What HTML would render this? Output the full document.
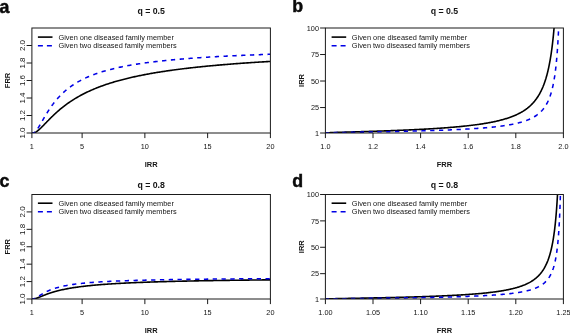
<!DOCTYPE html>
<html><head><meta charset="utf-8"><title>FRR vs IRR</title>
<style>
html,body{margin:0;padding:0;background:#fff;}
body{width:570px;height:333px;overflow:hidden;}
svg{display:block;font-family:"Liberation Sans",sans-serif;will-change:transform;}
</style></head><body>
<svg width="570" height="333" viewBox="0 0 570 333">
<rect width="570" height="333" fill="#fff"/>
<clipPath id="ca"><rect x="31.9" y="28.0" width="238.49999999999997" height="105.0"/></clipPath>
<text x="-0.4" y="12.9" font-size="17.8" font-weight="bold" fill="#0a0a0a" stroke="#0a0a0a" stroke-width="0.45">a</text>
<text x="151.14999999999998" y="13.6" font-size="8.75" font-weight="bold" text-anchor="middle" fill="#141414">q = 0.5</text>
<g clip-path="url(#ca)" fill="none" stroke-linejoin="round">
<path d="M31.90 133.00 L32.11 133.00 L32.32 133.00 L32.53 133.00 L32.74 133.00 L32.95 133.00 L33.17 132.99 L33.38 132.97 L33.59 132.94 L33.80 132.90 L34.01 132.84 L34.22 132.78 L34.43 132.71 L34.64 132.63 L34.85 132.55 L35.06 132.45 L35.28 132.35 L35.49 132.24 L35.70 132.12 L35.91 132.00 L36.12 131.87 L36.33 131.74 L36.54 131.60 L36.75 131.45 L36.96 131.31 L37.17 131.15 L37.39 130.99 L37.60 130.83 L37.81 130.66 L38.02 130.49 L38.23 130.32 L38.44 130.14 L38.65 129.96 L38.86 129.78 L39.07 129.60 L39.28 129.41 L39.49 129.22 L39.71 129.02 L39.92 128.83 L40.13 128.63 L40.34 128.43 L40.55 128.23 L40.76 128.03 L40.97 127.82 L41.18 127.62 L41.39 127.41 L41.60 127.20 L41.82 127.00 L42.03 126.78 L42.24 126.57 L42.45 126.36 L42.66 126.15 L42.87 125.93 L43.08 125.72 L43.29 125.50 L43.50 125.29 L43.71 125.07 L43.93 124.86 L44.14 124.64 L44.35 124.42 L44.56 124.21 L44.77 123.99 L44.98 123.77 L45.19 123.55 L45.40 123.33 L45.61 123.12 L45.82 122.90 L46.03 122.68 L46.25 122.46 L46.46 122.25 L46.67 122.03 L46.88 121.81 L47.09 121.59 L47.30 121.38 L47.51 121.16 L47.72 120.95 L47.93 120.73 L48.14 120.51 L48.36 120.30 L48.57 120.09 L48.78 119.87 L48.99 119.66 L49.20 119.44 L49.41 119.23 L49.62 119.02 L49.83 118.81 L50.04 118.60 L50.25 118.39 L50.47 118.18 L50.68 117.97 L50.89 117.76 L51.10 117.55 L51.31 117.34 L51.52 117.14 L51.73 116.93 L51.94 116.73 L52.15 116.52 L52.36 116.32 L52.57 116.11 L52.79 115.91 L53.00 115.71 L53.21 115.51 L53.42 115.31 L53.63 115.11 L53.84 114.91 L54.05 114.71 L54.26 114.51 L54.47 114.31 L54.68 114.12 L54.90 113.92 L55.11 113.73 L55.32 113.53 L55.53 113.34 L55.74 113.15 L55.95 112.96 L56.16 112.76 L56.37 112.57 L56.58 112.39 L56.79 112.20 L57.01 112.01 L57.98 111.15 L58.95 110.31 L59.93 109.48 L60.90 108.68 L61.88 107.88 L62.85 107.11 L63.83 106.35 L64.80 105.60 L65.77 104.87 L66.75 104.16 L67.72 103.46 L68.70 102.77 L69.67 102.10 L70.65 101.44 L71.62 100.80 L72.60 100.17 L73.57 99.55 L74.54 98.94 L75.52 98.35 L76.49 97.77 L77.47 97.20 L78.44 96.64 L79.42 96.09 L80.39 95.56 L81.37 95.03 L82.34 94.51 L83.31 94.01 L84.29 93.51 L85.26 93.03 L86.24 92.55 L87.21 92.08 L88.19 91.62 L89.16 91.17 L90.14 90.72 L91.11 90.29 L92.08 89.86 L93.06 89.44 L94.03 89.03 L95.01 88.63 L95.98 88.23 L96.96 87.84 L97.93 87.46 L98.90 87.08 L99.88 86.71 L100.85 86.34 L101.83 85.99 L102.80 85.63 L103.78 85.29 L104.75 84.95 L105.73 84.61 L106.70 84.28 L107.67 83.96 L108.65 83.64 L109.62 83.33 L110.60 83.02 L111.57 82.72 L112.55 82.42 L113.52 82.12 L114.50 81.83 L115.47 81.55 L116.44 81.27 L117.42 80.99 L118.39 80.72 L119.37 80.45 L120.34 80.18 L121.32 79.92 L122.29 79.67 L123.26 79.41 L124.24 79.16 L125.21 78.92 L126.19 78.68 L127.16 78.44 L128.14 78.20 L129.11 77.97 L130.09 77.74 L131.06 77.51 L132.03 77.29 L133.01 77.07 L133.98 76.85 L134.96 76.64 L135.93 76.43 L136.91 76.22 L137.88 76.02 L138.86 75.81 L139.83 75.61 L140.80 75.41 L141.78 75.22 L142.75 75.03 L143.73 74.84 L144.70 74.65 L145.68 74.46 L146.65 74.28 L147.62 74.10 L148.60 73.92 L149.57 73.75 L150.55 73.57 L151.52 73.40 L152.50 73.23 L153.47 73.06 L154.45 72.89 L155.42 72.73 L156.39 72.57 L157.37 72.41 L158.34 72.25 L159.32 72.09 L160.29 71.94 L161.27 71.79 L162.24 71.63 L163.22 71.49 L164.19 71.34 L165.16 71.19 L166.14 71.05 L167.11 70.90 L168.09 70.76 L169.06 70.62 L170.04 70.48 L171.01 70.35 L171.99 70.21 L172.96 70.08 L173.93 69.95 L174.91 69.82 L175.88 69.69 L176.86 69.56 L177.83 69.43 L178.81 69.31 L179.78 69.18 L180.75 69.06 L181.73 68.94 L182.70 68.82 L183.68 68.70 L184.65 68.58 L185.63 68.46 L186.60 68.35 L187.58 68.23 L188.55 68.12 L189.52 68.01 L190.50 67.90 L191.47 67.78 L192.45 67.68 L193.42 67.57 L194.40 67.46 L195.37 67.36 L196.35 67.25 L197.32 67.15 L198.29 67.04 L199.27 66.94 L200.24 66.84 L201.22 66.74 L202.19 66.64 L203.17 66.54 L204.14 66.45 L205.11 66.35 L206.09 66.25 L207.06 66.16 L208.04 66.07 L209.01 65.97 L209.99 65.88 L210.96 65.79 L211.94 65.70 L212.91 65.61 L213.88 65.52 L214.86 65.43 L215.83 65.34 L216.81 65.26 L217.78 65.17 L218.76 65.09 L219.73 65.00 L220.71 64.92 L221.68 64.84 L222.65 64.75 L223.63 64.67 L224.60 64.59 L225.58 64.51 L226.55 64.43 L227.53 64.35 L228.50 64.27 L229.47 64.20 L230.45 64.12 L231.42 64.04 L232.40 63.97 L233.37 63.89 L234.35 63.82 L235.32 63.74 L236.30 63.67 L237.27 63.60 L238.24 63.53 L239.22 63.45 L240.19 63.38 L241.17 63.31 L242.14 63.24 L243.12 63.17 L244.09 63.11 L245.07 63.04 L246.04 62.97 L247.01 62.90 L247.99 62.84 L248.96 62.77 L249.94 62.70 L250.91 62.64 L251.89 62.57 L252.86 62.51 L253.84 62.45 L254.81 62.38 L255.78 62.32 L256.76 62.26 L257.73 62.20 L258.71 62.13 L259.68 62.07 L260.66 62.01 L261.63 61.95 L262.60 61.89 L263.58 61.83 L264.55 61.77 L265.53 61.72 L266.50 61.66 L267.48 61.60 L268.45 61.54 L269.43 61.49 L270.40 61.43" stroke="#000" stroke-width="1.6"/>
<path d="M31.90 133.00 L32.11 133.00 L32.32 133.00 L32.53 133.00 L32.74 133.00 L32.95 133.00 L33.17 132.98 L33.38 132.94 L33.59 132.88 L33.80 132.79 L34.01 132.69 L34.22 132.57 L34.43 132.43 L34.64 132.27 L34.85 132.10 L35.06 131.91 L35.28 131.71 L35.49 131.49 L35.70 131.26 L35.91 131.02 L36.12 130.77 L36.33 130.51 L36.54 130.24 L36.75 129.96 L36.96 129.67 L37.17 129.38 L37.39 129.08 L37.60 128.77 L37.81 128.45 L38.02 128.13 L38.23 127.80 L38.44 127.47 L38.65 127.13 L38.86 126.79 L39.07 126.45 L39.28 126.10 L39.49 125.75 L39.71 125.39 L39.92 125.04 L40.13 124.68 L40.34 124.32 L40.55 123.96 L40.76 123.59 L40.97 123.23 L41.18 122.86 L41.39 122.50 L41.60 122.13 L41.82 121.76 L42.03 121.39 L42.24 121.03 L42.45 120.66 L42.66 120.29 L42.87 119.92 L43.08 119.56 L43.29 119.19 L43.50 118.83 L43.71 118.46 L43.93 118.10 L44.14 117.74 L44.35 117.38 L44.56 117.02 L44.77 116.66 L44.98 116.30 L45.19 115.95 L45.40 115.59 L45.61 115.24 L45.82 114.89 L46.03 114.54 L46.25 114.19 L46.46 113.85 L46.67 113.50 L46.88 113.16 L47.09 112.82 L47.30 112.48 L47.51 112.14 L47.72 111.81 L47.93 111.48 L48.14 111.15 L48.36 110.82 L48.57 110.49 L48.78 110.17 L48.99 109.85 L49.20 109.53 L49.41 109.21 L49.62 108.89 L49.83 108.58 L50.04 108.27 L50.25 107.96 L50.47 107.65 L50.68 107.34 L50.89 107.04 L51.10 106.74 L51.31 106.44 L51.52 106.14 L51.73 105.85 L51.94 105.56 L52.15 105.26 L52.36 104.98 L52.57 104.69 L52.79 104.41 L53.00 104.12 L53.21 103.84 L53.42 103.56 L53.63 103.29 L53.84 103.01 L54.05 102.74 L54.26 102.47 L54.47 102.20 L54.68 101.94 L54.90 101.67 L55.11 101.41 L55.32 101.15 L55.53 100.89 L55.74 100.64 L55.95 100.38 L56.16 100.13 L56.37 99.88 L56.58 99.63 L56.79 99.39 L57.01 99.14 L57.98 98.03 L58.95 96.96 L59.93 95.93 L60.90 94.93 L61.88 93.97 L62.85 93.04 L63.83 92.14 L64.80 91.27 L65.77 90.43 L66.75 89.62 L67.72 88.83 L68.70 88.07 L69.67 87.33 L70.65 86.62 L71.62 85.92 L72.60 85.25 L73.57 84.60 L74.54 83.97 L75.52 83.36 L76.49 82.76 L77.47 82.19 L78.44 81.63 L79.42 81.08 L80.39 80.56 L81.37 80.04 L82.34 79.54 L83.31 79.06 L84.29 78.58 L85.26 78.12 L86.24 77.67 L87.21 77.24 L88.19 76.81 L89.16 76.40 L90.14 75.99 L91.11 75.60 L92.08 75.21 L93.06 74.84 L94.03 74.47 L95.01 74.12 L95.98 73.77 L96.96 73.43 L97.93 73.09 L98.90 72.77 L99.88 72.45 L100.85 72.14 L101.83 71.84 L102.80 71.54 L103.78 71.25 L104.75 70.96 L105.73 70.69 L106.70 70.41 L107.67 70.15 L108.65 69.89 L109.62 69.63 L110.60 69.38 L111.57 69.13 L112.55 68.89 L113.52 68.66 L114.50 68.43 L115.47 68.20 L116.44 67.98 L117.42 67.76 L118.39 67.54 L119.37 67.33 L120.34 67.13 L121.32 66.93 L122.29 66.73 L123.26 66.53 L124.24 66.34 L125.21 66.15 L126.19 65.97 L127.16 65.79 L128.14 65.61 L129.11 65.43 L130.09 65.26 L131.06 65.09 L132.03 64.92 L133.01 64.76 L133.98 64.60 L134.96 64.44 L135.93 64.28 L136.91 64.13 L137.88 63.98 L138.86 63.83 L139.83 63.69 L140.80 63.54 L141.78 63.40 L142.75 63.26 L143.73 63.12 L144.70 62.99 L145.68 62.85 L146.65 62.72 L147.62 62.59 L148.60 62.47 L149.57 62.34 L150.55 62.22 L151.52 62.09 L152.50 61.97 L153.47 61.86 L154.45 61.74 L155.42 61.62 L156.39 61.51 L157.37 61.40 L158.34 61.29 L159.32 61.18 L160.29 61.07 L161.27 60.97 L162.24 60.86 L163.22 60.76 L164.19 60.66 L165.16 60.56 L166.14 60.46 L167.11 60.36 L168.09 60.26 L169.06 60.17 L170.04 60.07 L171.01 59.98 L171.99 59.89 L172.96 59.80 L173.93 59.71 L174.91 59.62 L175.88 59.53 L176.86 59.45 L177.83 59.36 L178.81 59.28 L179.78 59.19 L180.75 59.11 L181.73 59.03 L182.70 58.95 L183.68 58.87 L184.65 58.79 L185.63 58.72 L186.60 58.64 L187.58 58.56 L188.55 58.49 L189.52 58.41 L190.50 58.34 L191.47 58.27 L192.45 58.20 L193.42 58.13 L194.40 58.06 L195.37 57.99 L196.35 57.92 L197.32 57.85 L198.29 57.78 L199.27 57.72 L200.24 57.65 L201.22 57.59 L202.19 57.52 L203.17 57.46 L204.14 57.40 L205.11 57.33 L206.09 57.27 L207.06 57.21 L208.04 57.15 L209.01 57.09 L209.99 57.03 L210.96 56.97 L211.94 56.92 L212.91 56.86 L213.88 56.80 L214.86 56.75 L215.83 56.69 L216.81 56.64 L217.78 56.58 L218.76 56.53 L219.73 56.47 L220.71 56.42 L221.68 56.37 L222.65 56.32 L223.63 56.27 L224.60 56.21 L225.58 56.16 L226.55 56.11 L227.53 56.06 L228.50 56.02 L229.47 55.97 L230.45 55.92 L231.42 55.87 L232.40 55.82 L233.37 55.78 L234.35 55.73 L235.32 55.68 L236.30 55.64 L237.27 55.59 L238.24 55.55 L239.22 55.50 L240.19 55.46 L241.17 55.42 L242.14 55.37 L243.12 55.33 L244.09 55.29 L245.07 55.25 L246.04 55.20 L247.01 55.16 L247.99 55.12 L248.96 55.08 L249.94 55.04 L250.91 55.00 L251.89 54.96 L252.86 54.92 L253.84 54.88 L254.81 54.84 L255.78 54.80 L256.76 54.77 L257.73 54.73 L258.71 54.69 L259.68 54.65 L260.66 54.62 L261.63 54.58 L262.60 54.54 L263.58 54.51 L264.55 54.47 L265.53 54.44 L266.50 54.40 L267.48 54.37 L268.45 54.33 L269.43 54.30 L270.40 54.26" stroke="#0000e6" stroke-width="1.55" stroke-dasharray="4.3 4.5" stroke-dashoffset="0.8"/>
</g>
<rect x="31.9" y="28.0" width="238.49999999999997" height="105.0" fill="none" stroke="#1a1a1a" stroke-width="1"/>
<line x1="31.90" y1="133.0" x2="31.90" y2="138.1" stroke="#1a1a1a" stroke-width="1"/>
<text x="31.90" y="149.00" font-size="7.3" text-anchor="middle" fill="#141414">1</text>
<line x1="82.11" y1="133.0" x2="82.11" y2="138.1" stroke="#1a1a1a" stroke-width="1"/>
<text x="82.11" y="149.00" font-size="7.3" text-anchor="middle" fill="#141414">5</text>
<line x1="144.87" y1="133.0" x2="144.87" y2="138.1" stroke="#1a1a1a" stroke-width="1"/>
<text x="144.87" y="149.00" font-size="7.3" text-anchor="middle" fill="#141414">10</text>
<line x1="207.64" y1="133.0" x2="207.64" y2="138.1" stroke="#1a1a1a" stroke-width="1"/>
<text x="207.64" y="149.00" font-size="7.3" text-anchor="middle" fill="#141414">15</text>
<line x1="270.40" y1="133.0" x2="270.40" y2="138.1" stroke="#1a1a1a" stroke-width="1"/>
<text x="270.40" y="149.00" font-size="7.3" text-anchor="middle" fill="#141414">20</text>
<line x1="31.9" y1="133.00" x2="26.599999999999998" y2="133.00" stroke="#1a1a1a" stroke-width="1"/>
<text transform="translate(24.50 133.00) rotate(-90)" font-size="8.0" text-anchor="middle" fill="#141414">1.0</text>
<line x1="31.9" y1="115.50" x2="26.599999999999998" y2="115.50" stroke="#1a1a1a" stroke-width="1"/>
<text transform="translate(24.50 115.50) rotate(-90)" font-size="8.0" text-anchor="middle" fill="#141414">1.2</text>
<line x1="31.9" y1="98.00" x2="26.599999999999998" y2="98.00" stroke="#1a1a1a" stroke-width="1"/>
<text transform="translate(24.50 98.00) rotate(-90)" font-size="8.0" text-anchor="middle" fill="#141414">1.4</text>
<line x1="31.9" y1="80.50" x2="26.599999999999998" y2="80.50" stroke="#1a1a1a" stroke-width="1"/>
<text transform="translate(24.50 80.50) rotate(-90)" font-size="8.0" text-anchor="middle" fill="#141414">1.6</text>
<line x1="31.9" y1="63.00" x2="26.599999999999998" y2="63.00" stroke="#1a1a1a" stroke-width="1"/>
<text transform="translate(24.50 63.00) rotate(-90)" font-size="8.0" text-anchor="middle" fill="#141414">1.8</text>
<line x1="31.9" y1="45.50" x2="26.599999999999998" y2="45.50" stroke="#1a1a1a" stroke-width="1"/>
<text transform="translate(24.50 45.50) rotate(-90)" font-size="8.0" text-anchor="middle" fill="#141414">2.0</text>
<text x="151.14999999999998" y="167.00" font-size="7.45" font-weight="bold" text-anchor="middle" fill="#141414">IRR</text>
<text transform="translate(10.0 80.50) rotate(-90)" font-size="7.45" font-weight="bold" text-anchor="middle" fill="#141414">FRR</text>
<line x1="37.9" y1="37.1" x2="52.5" y2="37.1" stroke="#000" stroke-width="1.6"/>
<line x1="37.9" y1="45.8" x2="52.5" y2="45.8" stroke="#0000e6" stroke-width="1.6" stroke-dasharray="5 4"/>
<text x="58.5" y="39.60" font-size="7.36" fill="#141414">Given one diseased family member</text>
<text x="58.5" y="48.30" font-size="7.36" fill="#141414">Given two diseased family members</text>
<clipPath id="cb"><rect x="325.4" y="28.0" width="238.0" height="105.0"/></clipPath>
<text x="292.2" y="12.4" font-size="17.8" font-weight="bold" fill="#0a0a0a" stroke="#0a0a0a" stroke-width="0.45">b</text>
<text x="444.4" y="13.6" font-size="8.75" font-weight="bold" text-anchor="middle" fill="#141414">q = 0.5</text>
<g clip-path="url(#cb)" fill="none" stroke-linejoin="round">
<path d="M325.40 133.00 L325.47 132.96 L325.65 132.93 L325.95 132.89 L326.34 132.86 L326.83 132.82 L327.40 132.79 L328.04 132.75 L328.74 132.71 L329.51 132.68 L330.33 132.64 L331.19 132.61 L332.10 132.57 L333.05 132.54 L334.03 132.50 L335.05 132.47 L336.09 132.43 L337.15 132.39 L338.24 132.36 L339.34 132.32 L340.46 132.29 L341.60 132.25 L342.74 132.22 L343.90 132.18 L345.06 132.14 L346.23 132.11 L347.41 132.07 L348.59 132.04 L349.77 132.00 L350.96 131.97 L352.14 131.93 L353.33 131.89 L354.51 131.86 L355.69 131.82 L356.87 131.79 L358.05 131.75 L359.22 131.72 L360.39 131.68 L361.55 131.65 L362.71 131.61 L363.86 131.57 L365.01 131.54 L366.15 131.50 L367.29 131.47 L368.41 131.43 L369.53 131.40 L370.65 131.36 L371.75 131.32 L372.85 131.29 L373.94 131.25 L375.02 131.22 L376.10 131.18 L377.16 131.15 L378.22 131.11 L379.27 131.07 L380.32 131.04 L381.35 131.00 L382.37 130.97 L383.39 130.93 L384.40 130.90 L385.40 130.86 L386.39 130.83 L387.37 130.79 L388.35 130.75 L389.32 130.72 L390.27 130.68 L391.22 130.65 L392.16 130.61 L393.10 130.58 L394.02 130.54 L394.94 130.50 L395.85 130.47 L396.75 130.43 L397.64 130.40 L398.53 130.36 L399.40 130.33 L400.27 130.29 L401.13 130.25 L401.99 130.22 L402.83 130.18 L403.67 130.15 L404.50 130.11 L405.33 130.08 L406.14 130.04 L406.95 130.01 L407.75 129.97 L408.55 129.93 L409.33 129.90 L410.11 129.86 L410.89 129.83 L411.65 129.79 L412.41 129.76 L413.17 129.72 L413.91 129.68 L414.65 129.65 L415.38 129.61 L416.11 129.58 L416.83 129.54 L417.54 129.51 L418.25 129.47 L418.95 129.43 L419.65 129.40 L420.34 129.36 L421.02 129.33 L421.70 129.29 L422.37 129.26 L423.03 129.22 L423.69 129.19 L424.35 129.15 L424.99 129.11 L425.64 129.08 L426.27 129.04 L426.90 129.01 L427.53 128.97 L428.15 128.94 L428.77 128.90 L429.38 128.86 L429.98 128.83 L430.58 128.79 L431.18 128.76 L432.43 128.68 L433.68 128.60 L434.92 128.53 L436.16 128.45 L437.40 128.37 L438.62 128.28 L439.85 128.20 L441.06 128.12 L442.28 128.03 L443.48 127.95 L444.68 127.86 L445.88 127.77 L447.06 127.68 L448.25 127.59 L449.42 127.49 L450.59 127.40 L451.75 127.30 L452.91 127.21 L454.06 127.11 L455.20 127.01 L456.33 126.91 L457.46 126.81 L458.58 126.70 L459.69 126.60 L460.80 126.49 L461.90 126.38 L462.99 126.27 L464.07 126.16 L465.15 126.05 L466.22 125.93 L467.28 125.81 L468.33 125.70 L469.38 125.58 L470.41 125.45 L471.44 125.33 L472.47 125.21 L473.48 125.08 L474.49 124.95 L475.48 124.82 L476.47 124.69 L477.46 124.55 L478.43 124.42 L479.40 124.28 L480.36 124.14 L481.31 123.99 L482.25 123.85 L483.18 123.70 L484.11 123.55 L485.03 123.40 L485.94 123.25 L486.84 123.10 L487.73 122.94 L488.62 122.78 L489.50 122.62 L490.37 122.45 L491.23 122.29 L492.08 122.12 L492.93 121.95 L493.77 121.77 L494.60 121.60 L495.42 121.42 L496.24 121.24 L497.04 121.05 L497.84 120.87 L498.63 120.68 L499.41 120.48 L500.19 120.29 L500.96 120.09 L501.72 119.89 L502.47 119.69 L503.21 119.48 L503.95 119.27 L504.68 119.06 L505.40 118.85 L506.12 118.63 L506.83 118.41 L507.53 118.18 L508.22 117.95 L508.90 117.72 L509.58 117.49 L510.25 117.25 L510.91 117.01 L511.57 116.77 L512.22 116.52 L512.86 116.27 L513.50 116.01 L514.13 115.75 L514.75 115.49 L515.36 115.22 L515.97 114.95 L516.57 114.68 L517.17 114.40 L517.75 114.12 L518.34 113.83 L518.91 113.54 L519.48 113.25 L520.04 112.95 L520.59 112.65 L521.14 112.34 L521.69 112.03 L522.22 111.71 L522.75 111.39 L523.28 111.07 L523.80 110.74 L524.31 110.40 L524.81 110.06 L525.31 109.72 L525.81 109.37 L526.30 109.01 L526.78 108.65 L527.26 108.29 L527.73 107.92 L528.19 107.55 L528.65 107.17 L529.11 106.78 L529.56 106.39 L530.00 105.99 L530.44 105.59 L530.87 105.18 L531.30 104.77 L531.72 104.35 L532.14 103.92 L532.55 103.49 L532.96 103.05 L533.36 102.60 L533.76 102.15 L534.15 101.69 L534.54 101.23 L534.92 100.76 L535.30 100.28 L535.67 99.80 L536.04 99.31 L536.41 98.81 L536.77 98.30 L537.12 97.79 L537.47 97.27 L537.82 96.74 L538.16 96.20 L538.50 95.66 L538.83 95.11 L539.16 94.55 L539.49 93.99 L539.81 93.41 L540.13 92.83 L540.44 92.24 L540.75 91.64 L541.05 91.03 L541.35 90.41 L541.65 89.78 L541.94 89.15 L542.23 88.50 L542.52 87.85 L542.80 87.19 L543.08 86.52 L543.35 85.83 L543.63 85.14 L543.89 84.44 L544.16 83.73 L544.42 83.01 L544.68 82.27 L544.93 81.53 L545.18 80.78 L545.43 80.01 L545.67 79.24 L545.92 78.45 L546.15 77.65 L546.39 76.85 L546.62 76.02 L546.85 75.19 L547.08 74.35 L547.30 73.49 L547.52 72.62 L547.74 71.74 L547.95 70.85 L548.16 69.94 L548.37 69.02 L548.58 68.09 L548.78 67.14 L548.98 66.18 L549.18 65.21 L549.37 64.22 L549.56 63.22 L549.75 62.20 L549.94 61.17 L550.13 60.13 L550.31 59.06 L550.49 57.99 L550.67 56.90 L550.84 55.79 L551.02 54.67 L551.19 53.53 L551.35 52.37 L551.52 51.20 L551.68 50.01 L551.85 48.81 L552.01 47.58 L552.16 46.34 L552.32 45.09 L552.47 43.81 L552.62 42.52 L552.77 41.20 L552.92 39.87 L553.06 38.52 L553.21 37.15 L553.35 35.76 L553.49 34.35 L553.62 32.92 L553.76 31.47 L553.89 30.00 L554.02 28.50 L554.15 26.99 L554.28 25.45 L554.41 23.89 L554.53 22.31 L554.66 20.71 L554.78 19.09 L554.90 17.44 L555.02 15.76 L555.13 14.07 L555.25 12.34 L555.36 10.60 L555.47 8.83 L555.58 7.03 L555.69 5.21 L555.80 3.36 L555.90 1.49 L556.01 -0.42 L556.11 -2.34 L556.21 -4.30 L556.31 -6.29 L556.41 -8.30 L556.51 -10.34 L556.61 -12.41" stroke="#000" stroke-width="1.6"/>
<path d="M325.40 133.00 L325.53 132.96 L325.90 132.93 L326.49 132.89 L327.28 132.86 L328.24 132.82 L329.36 132.79 L330.62 132.75 L331.99 132.71 L333.48 132.68 L335.05 132.64 L336.71 132.61 L338.44 132.57 L340.23 132.54 L342.07 132.50 L343.94 132.47 L345.86 132.43 L347.80 132.39 L349.76 132.36 L351.74 132.32 L353.73 132.29 L355.73 132.25 L357.73 132.22 L359.73 132.18 L361.72 132.14 L363.71 132.11 L365.69 132.07 L367.66 132.04 L369.61 132.00 L371.56 131.97 L373.48 131.93 L375.39 131.89 L377.27 131.86 L379.14 131.82 L380.99 131.79 L382.82 131.75 L384.62 131.72 L386.41 131.68 L388.17 131.65 L389.91 131.61 L391.62 131.57 L393.32 131.54 L394.99 131.50 L396.63 131.47 L398.26 131.43 L399.86 131.40 L401.44 131.36 L402.99 131.32 L404.53 131.29 L406.04 131.25 L407.52 131.22 L408.99 131.18 L410.43 131.15 L411.86 131.11 L413.26 131.07 L414.64 131.04 L416.00 131.00 L417.34 130.97 L418.66 130.93 L419.96 130.90 L421.24 130.86 L422.50 130.83 L423.74 130.79 L424.96 130.75 L426.17 130.72 L427.36 130.68 L428.52 130.65 L429.68 130.61 L430.81 130.58 L431.93 130.54 L433.03 130.50 L434.12 130.47 L435.19 130.43 L436.24 130.40 L437.28 130.36 L438.30 130.33 L439.31 130.29 L440.30 130.25 L441.28 130.22 L442.25 130.18 L443.20 130.15 L444.14 130.11 L445.07 130.08 L445.98 130.04 L446.88 130.01 L447.77 129.97 L448.64 129.93 L449.50 129.90 L450.35 129.86 L451.19 129.83 L452.02 129.79 L452.84 129.76 L453.64 129.72 L454.44 129.68 L455.22 129.65 L455.99 129.61 L456.76 129.58 L457.51 129.54 L458.25 129.51 L458.99 129.47 L459.71 129.43 L460.43 129.40 L461.13 129.36 L461.83 129.33 L462.51 129.29 L463.19 129.26 L463.86 129.22 L464.53 129.19 L465.18 129.15 L465.82 129.11 L466.46 129.08 L467.09 129.04 L467.71 129.01 L468.33 128.97 L468.93 128.94 L469.53 128.90 L470.13 128.86 L470.71 128.83 L471.29 128.79 L471.86 128.76 L473.06 128.68 L474.24 128.60 L475.41 128.53 L476.57 128.45 L477.72 128.37 L478.85 128.28 L479.97 128.20 L481.07 128.12 L482.17 128.03 L483.25 127.95 L484.32 127.86 L485.37 127.77 L486.42 127.68 L487.45 127.59 L488.47 127.49 L489.47 127.40 L490.47 127.30 L491.45 127.21 L492.42 127.11 L493.38 127.01 L494.33 126.91 L495.27 126.81 L496.19 126.70 L497.10 126.60 L498.00 126.49 L498.89 126.38 L499.77 126.27 L500.64 126.16 L501.50 126.05 L502.34 125.93 L503.18 125.81 L504.00 125.70 L504.82 125.58 L505.62 125.45 L506.41 125.33 L507.20 125.21 L507.97 125.08 L508.73 124.95 L509.48 124.82 L510.23 124.69 L510.96 124.55 L511.68 124.42 L512.40 124.28 L513.10 124.14 L513.80 123.99 L514.49 123.85 L515.16 123.70 L515.83 123.55 L516.49 123.40 L517.14 123.25 L517.78 123.10 L518.42 122.94 L519.04 122.78 L519.66 122.62 L520.27 122.45 L520.87 122.29 L521.46 122.12 L522.04 121.95 L522.62 121.77 L523.19 121.60 L523.75 121.42 L524.30 121.24 L524.85 121.05 L525.38 120.87 L525.92 120.68 L526.44 120.48 L526.96 120.29 L527.46 120.09 L527.97 119.89 L528.46 119.69 L528.95 119.48 L529.43 119.27 L529.91 119.06 L530.38 118.85 L530.84 118.63 L531.30 118.41 L531.75 118.18 L532.19 117.95 L532.63 117.72 L533.06 117.49 L533.49 117.25 L533.91 117.01 L534.32 116.77 L534.73 116.52 L535.13 116.27 L535.53 116.01 L535.92 115.75 L536.30 115.49 L536.69 115.22 L537.06 114.95 L537.43 114.68 L537.80 114.40 L538.16 114.12 L538.51 113.83 L538.86 113.54 L539.21 113.25 L539.55 112.95 L539.88 112.65 L540.21 112.34 L540.54 112.03 L540.86 111.71 L541.18 111.39 L541.49 111.07 L541.80 110.74 L542.10 110.40 L542.40 110.06 L542.70 109.72 L542.99 109.37 L543.28 109.01 L543.56 108.65 L543.84 108.29 L544.12 107.92 L544.39 107.55 L544.66 107.17 L544.92 106.78 L545.18 106.39 L545.44 105.99 L545.69 105.59 L545.94 105.18 L546.19 104.77 L546.43 104.35 L546.67 103.92 L546.91 103.49 L547.14 103.05 L547.37 102.60 L547.60 102.15 L547.82 101.69 L548.04 101.23 L548.26 100.76 L548.47 100.28 L548.68 99.80 L548.89 99.31 L549.09 98.81 L549.29 98.30 L549.49 97.79 L549.69 97.27 L549.88 96.74 L550.07 96.20 L550.26 95.66 L550.45 95.11 L550.63 94.55 L550.81 93.99 L550.99 93.41 L551.16 92.83 L551.34 92.24 L551.51 91.64 L551.68 91.03 L551.84 90.41 L552.00 89.78 L552.17 89.15 L552.32 88.50 L552.48 87.85 L552.63 87.19 L552.79 86.52 L552.94 85.83 L553.08 85.14 L553.23 84.44 L553.37 83.73 L553.52 83.01 L553.66 82.27 L553.79 81.53 L553.93 80.78 L554.06 80.01 L554.19 79.24 L554.32 78.45 L554.45 77.65 L554.58 76.85 L554.70 76.02 L554.83 75.19 L554.95 74.35 L555.07 73.49 L555.19 72.62 L555.30 71.74 L555.42 70.85 L555.53 69.94 L555.64 69.02 L555.75 68.09 L555.86 67.14 L555.96 66.18 L556.07 65.21 L556.17 64.22 L556.28 63.22 L556.38 62.20 L556.48 61.17 L556.57 60.13 L556.67 59.06 L556.76 57.99 L556.86 56.90 L556.95 55.79 L557.04 54.67 L557.13 53.53 L557.22 52.37 L557.31 51.20 L557.39 50.01 L557.48 48.81 L557.56 47.58 L557.65 46.34 L557.73 45.09 L557.81 43.81 L557.89 42.52 L557.96 41.20 L558.04 39.87 L558.12 38.52 L558.19 37.15 L558.26 35.76 L558.34 34.35 L558.41 32.92 L558.48 31.47 L558.55 30.00 L558.62 28.50 L558.69 26.99 L558.75 25.45 L558.82 23.89 L558.88 22.31 L558.95 20.71 L559.01 19.09 L559.07 17.44 L559.13 15.76 L559.19 14.07 L559.25 12.34 L559.31 10.60 L559.37 8.83 L559.43 7.03 L559.48 5.21 L559.54 3.36 L559.59 1.49 L559.65 -0.42 L559.70 -2.34 L559.75 -4.30 L559.80 -6.29 L559.85 -8.30 L559.90 -10.34 L559.95 -12.41" stroke="#0000e6" stroke-width="1.55" stroke-dasharray="4.3 4.5" stroke-dashoffset="0.8"/>
</g>
<rect x="325.4" y="28.0" width="238.0" height="105.0" fill="none" stroke="#1a1a1a" stroke-width="1"/>
<line x1="325.40" y1="133.0" x2="325.40" y2="138.1" stroke="#1a1a1a" stroke-width="1"/>
<text x="325.40" y="149.00" font-size="7.3" text-anchor="middle" fill="#141414">1.0</text>
<line x1="373.00" y1="133.0" x2="373.00" y2="138.1" stroke="#1a1a1a" stroke-width="1"/>
<text x="373.00" y="149.00" font-size="7.3" text-anchor="middle" fill="#141414">1.2</text>
<line x1="420.60" y1="133.0" x2="420.60" y2="138.1" stroke="#1a1a1a" stroke-width="1"/>
<text x="420.60" y="149.00" font-size="7.3" text-anchor="middle" fill="#141414">1.4</text>
<line x1="468.20" y1="133.0" x2="468.20" y2="138.1" stroke="#1a1a1a" stroke-width="1"/>
<text x="468.20" y="149.00" font-size="7.3" text-anchor="middle" fill="#141414">1.6</text>
<line x1="515.80" y1="133.0" x2="515.80" y2="138.1" stroke="#1a1a1a" stroke-width="1"/>
<text x="515.80" y="149.00" font-size="7.3" text-anchor="middle" fill="#141414">1.8</text>
<line x1="563.40" y1="133.0" x2="563.40" y2="138.1" stroke="#1a1a1a" stroke-width="1"/>
<text x="563.40" y="149.00" font-size="7.3" text-anchor="middle" fill="#141414">2.0</text>
<line x1="325.4" y1="133.00" x2="320.09999999999997" y2="133.00" stroke="#1a1a1a" stroke-width="1"/>
<text x="319.00" y="135.70" font-size="7.3" text-anchor="end" fill="#141414">1</text>
<line x1="325.4" y1="107.55" x2="320.09999999999997" y2="107.55" stroke="#1a1a1a" stroke-width="1"/>
<text x="319.00" y="110.25" font-size="7.3" text-anchor="end" fill="#141414">25</text>
<line x1="325.4" y1="81.03" x2="320.09999999999997" y2="81.03" stroke="#1a1a1a" stroke-width="1"/>
<text x="319.00" y="83.73" font-size="7.3" text-anchor="end" fill="#141414">50</text>
<line x1="325.4" y1="54.52" x2="320.09999999999997" y2="54.52" stroke="#1a1a1a" stroke-width="1"/>
<text x="319.00" y="57.22" font-size="7.3" text-anchor="end" fill="#141414">75</text>
<line x1="325.4" y1="28.00" x2="320.09999999999997" y2="28.00" stroke="#1a1a1a" stroke-width="1"/>
<text x="319.00" y="30.70" font-size="7.3" text-anchor="end" fill="#141414">100</text>
<text x="444.4" y="167.00" font-size="7.45" font-weight="bold" text-anchor="middle" fill="#141414">FRR</text>
<text transform="translate(304.1 80.50) rotate(-90)" font-size="7.45" font-weight="bold" text-anchor="middle" fill="#141414">IRR</text>
<line x1="331.59999999999997" y1="37.1" x2="346.2" y2="37.1" stroke="#000" stroke-width="1.6"/>
<line x1="331.59999999999997" y1="45.8" x2="346.2" y2="45.8" stroke="#0000e6" stroke-width="1.6" stroke-dasharray="5 4"/>
<text x="351.79999999999995" y="39.60" font-size="7.36" fill="#141414">Given one diseased family member</text>
<text x="351.79999999999995" y="48.30" font-size="7.36" fill="#141414">Given two diseased family members</text>
<clipPath id="cc"><rect x="31.9" y="194.5" width="238.49999999999997" height="104.5"/></clipPath>
<text x="-0.4" y="187.0" font-size="17.8" font-weight="bold" fill="#0a0a0a" stroke="#0a0a0a" stroke-width="0.45">c</text>
<text x="151.14999999999998" y="187.9" font-size="8.75" font-weight="bold" text-anchor="middle" fill="#141414">q = 0.8</text>
<g clip-path="url(#cc)" fill="none" stroke-linejoin="round">
<path d="M31.90 299.00 L32.11 299.00 L32.32 299.00 L32.53 299.00 L32.74 299.00 L32.95 299.00 L33.17 298.99 L33.38 298.98 L33.59 298.96 L33.80 298.94 L34.01 298.91 L34.22 298.87 L34.43 298.83 L34.64 298.78 L34.85 298.73 L35.06 298.68 L35.28 298.62 L35.49 298.57 L35.70 298.50 L35.91 298.44 L36.12 298.37 L36.33 298.30 L36.54 298.23 L36.75 298.16 L36.96 298.08 L37.17 298.00 L37.39 297.93 L37.60 297.85 L37.81 297.77 L38.02 297.68 L38.23 297.60 L38.44 297.52 L38.65 297.44 L38.86 297.35 L39.07 297.27 L39.28 297.18 L39.49 297.10 L39.71 297.01 L39.92 296.92 L40.13 296.84 L40.34 296.75 L40.55 296.66 L40.76 296.58 L40.97 296.49 L41.18 296.40 L41.39 296.32 L41.60 296.23 L41.82 296.14 L42.03 296.06 L42.24 295.97 L42.45 295.89 L42.66 295.80 L42.87 295.72 L43.08 295.63 L43.29 295.55 L43.50 295.46 L43.71 295.38 L43.93 295.29 L44.14 295.21 L44.35 295.13 L44.56 295.05 L44.77 294.96 L44.98 294.88 L45.19 294.80 L45.40 294.72 L45.61 294.64 L45.82 294.56 L46.03 294.48 L46.25 294.40 L46.46 294.32 L46.67 294.25 L46.88 294.17 L47.09 294.09 L47.30 294.02 L47.51 293.94 L47.72 293.86 L47.93 293.79 L48.14 293.71 L48.36 293.64 L48.57 293.57 L48.78 293.49 L48.99 293.42 L49.20 293.35 L49.41 293.28 L49.62 293.21 L49.83 293.14 L50.04 293.07 L50.25 293.00 L50.47 292.93 L50.68 292.86 L50.89 292.79 L51.10 292.72 L51.31 292.66 L51.52 292.59 L51.73 292.52 L51.94 292.46 L52.15 292.39 L52.36 292.33 L52.57 292.26 L52.79 292.20 L53.00 292.14 L53.21 292.07 L53.42 292.01 L53.63 291.95 L53.84 291.89 L54.05 291.83 L54.26 291.76 L54.47 291.70 L54.68 291.64 L54.90 291.59 L55.11 291.53 L55.32 291.47 L55.53 291.41 L55.74 291.35 L55.95 291.29 L56.16 291.24 L56.37 291.18 L56.58 291.12 L56.79 291.07 L57.01 291.01 L57.98 290.76 L58.95 290.52 L59.93 290.29 L60.90 290.06 L61.88 289.84 L62.85 289.63 L63.83 289.42 L64.80 289.22 L65.77 289.03 L66.75 288.84 L67.72 288.65 L68.70 288.48 L69.67 288.30 L70.65 288.14 L71.62 287.98 L72.60 287.82 L73.57 287.66 L74.54 287.52 L75.52 287.37 L76.49 287.23 L77.47 287.09 L78.44 286.96 L79.42 286.83 L80.39 286.70 L81.37 286.58 L82.34 286.46 L83.31 286.34 L84.29 286.22 L85.26 286.11 L86.24 286.00 L87.21 285.90 L88.19 285.79 L89.16 285.69 L90.14 285.59 L91.11 285.49 L92.08 285.40 L93.06 285.31 L94.03 285.21 L95.01 285.13 L95.98 285.04 L96.96 284.95 L97.93 284.87 L98.90 284.79 L99.88 284.71 L100.85 284.63 L101.83 284.55 L102.80 284.48 L103.78 284.41 L104.75 284.33 L105.73 284.26 L106.70 284.19 L107.67 284.13 L108.65 284.06 L109.62 283.99 L110.60 283.93 L111.57 283.87 L112.55 283.81 L113.52 283.75 L114.50 283.69 L115.47 283.63 L116.44 283.57 L117.42 283.51 L118.39 283.46 L119.37 283.40 L120.34 283.35 L121.32 283.30 L122.29 283.25 L123.26 283.19 L124.24 283.14 L125.21 283.10 L126.19 283.05 L127.16 283.00 L128.14 282.95 L129.11 282.91 L130.09 282.86 L131.06 282.82 L132.03 282.77 L133.01 282.73 L133.98 282.69 L134.96 282.64 L135.93 282.60 L136.91 282.56 L137.88 282.52 L138.86 282.48 L139.83 282.44 L140.80 282.41 L141.78 282.37 L142.75 282.33 L143.73 282.29 L144.70 282.26 L145.68 282.22 L146.65 282.19 L147.62 282.15 L148.60 282.12 L149.57 282.08 L150.55 282.05 L151.52 282.02 L152.50 281.99 L153.47 281.95 L154.45 281.92 L155.42 281.89 L156.39 281.86 L157.37 281.83 L158.34 281.80 L159.32 281.77 L160.29 281.74 L161.27 281.71 L162.24 281.69 L163.22 281.66 L164.19 281.63 L165.16 281.60 L166.14 281.58 L167.11 281.55 L168.09 281.52 L169.06 281.50 L170.04 281.47 L171.01 281.44 L171.99 281.42 L172.96 281.39 L173.93 281.37 L174.91 281.35 L175.88 281.32 L176.86 281.30 L177.83 281.27 L178.81 281.25 L179.78 281.23 L180.75 281.21 L181.73 281.18 L182.70 281.16 L183.68 281.14 L184.65 281.12 L185.63 281.10 L186.60 281.08 L187.58 281.05 L188.55 281.03 L189.52 281.01 L190.50 280.99 L191.47 280.97 L192.45 280.95 L193.42 280.93 L194.40 280.91 L195.37 280.90 L196.35 280.88 L197.32 280.86 L198.29 280.84 L199.27 280.82 L200.24 280.80 L201.22 280.78 L202.19 280.77 L203.17 280.75 L204.14 280.73 L205.11 280.71 L206.09 280.70 L207.06 280.68 L208.04 280.66 L209.01 280.65 L209.99 280.63 L210.96 280.61 L211.94 280.60 L212.91 280.58 L213.88 280.56 L214.86 280.55 L215.83 280.53 L216.81 280.52 L217.78 280.50 L218.76 280.49 L219.73 280.47 L220.71 280.46 L221.68 280.44 L222.65 280.43 L223.63 280.41 L224.60 280.40 L225.58 280.38 L226.55 280.37 L227.53 280.36 L228.50 280.34 L229.47 280.33 L230.45 280.32 L231.42 280.30 L232.40 280.29 L233.37 280.28 L234.35 280.26 L235.32 280.25 L236.30 280.24 L237.27 280.22 L238.24 280.21 L239.22 280.20 L240.19 280.19 L241.17 280.17 L242.14 280.16 L243.12 280.15 L244.09 280.14 L245.07 280.12 L246.04 280.11 L247.01 280.10 L247.99 280.09 L248.96 280.08 L249.94 280.07 L250.91 280.05 L251.89 280.04 L252.86 280.03 L253.84 280.02 L254.81 280.01 L255.78 280.00 L256.76 279.99 L257.73 279.98 L258.71 279.97 L259.68 279.96 L260.66 279.95 L261.63 279.93 L262.60 279.92 L263.58 279.91 L264.55 279.90 L265.53 279.89 L266.50 279.88 L267.48 279.87 L268.45 279.86 L269.43 279.85 L270.40 279.84" stroke="#000" stroke-width="1.6"/>
<path d="M31.90 299.00 L32.11 299.00 L32.32 299.00 L32.53 299.00 L32.74 299.00 L32.95 299.00 L33.17 298.99 L33.38 298.96 L33.59 298.93 L33.80 298.88 L34.01 298.82 L34.22 298.75 L34.43 298.67 L34.64 298.58 L34.85 298.49 L35.06 298.39 L35.28 298.29 L35.49 298.18 L35.70 298.07 L35.91 297.95 L36.12 297.83 L36.33 297.71 L36.54 297.58 L36.75 297.45 L36.96 297.32 L37.17 297.19 L37.39 297.05 L37.60 296.92 L37.81 296.78 L38.02 296.65 L38.23 296.51 L38.44 296.37 L38.65 296.24 L38.86 296.10 L39.07 295.96 L39.28 295.82 L39.49 295.69 L39.71 295.55 L39.92 295.41 L40.13 295.28 L40.34 295.14 L40.55 295.01 L40.76 294.87 L40.97 294.74 L41.18 294.61 L41.39 294.48 L41.60 294.35 L41.82 294.22 L42.03 294.09 L42.24 293.97 L42.45 293.84 L42.66 293.71 L42.87 293.59 L43.08 293.47 L43.29 293.35 L43.50 293.23 L43.71 293.11 L43.93 292.99 L44.14 292.87 L44.35 292.76 L44.56 292.64 L44.77 292.53 L44.98 292.42 L45.19 292.31 L45.40 292.20 L45.61 292.09 L45.82 291.98 L46.03 291.88 L46.25 291.77 L46.46 291.67 L46.67 291.56 L46.88 291.46 L47.09 291.36 L47.30 291.26 L47.51 291.16 L47.72 291.07 L47.93 290.97 L48.14 290.88 L48.36 290.78 L48.57 290.69 L48.78 290.60 L48.99 290.51 L49.20 290.42 L49.41 290.33 L49.62 290.24 L49.83 290.15 L50.04 290.06 L50.25 289.98 L50.47 289.90 L50.68 289.81 L50.89 289.73 L51.10 289.65 L51.31 289.57 L51.52 289.49 L51.73 289.41 L51.94 289.33 L52.15 289.25 L52.36 289.18 L52.57 289.10 L52.79 289.03 L53.00 288.95 L53.21 288.88 L53.42 288.81 L53.63 288.74 L53.84 288.67 L54.05 288.60 L54.26 288.53 L54.47 288.46 L54.68 288.39 L54.90 288.32 L55.11 288.26 L55.32 288.19 L55.53 288.13 L55.74 288.06 L55.95 288.00 L56.16 287.94 L56.37 287.87 L56.58 287.81 L56.79 287.75 L57.01 287.69 L57.98 287.42 L58.95 287.16 L59.93 286.92 L60.90 286.68 L61.88 286.45 L62.85 286.24 L63.83 286.03 L64.80 285.83 L65.77 285.64 L66.75 285.46 L67.72 285.29 L68.70 285.12 L69.67 284.96 L70.65 284.80 L71.62 284.65 L72.60 284.51 L73.57 284.37 L74.54 284.23 L75.52 284.10 L76.49 283.98 L77.47 283.86 L78.44 283.74 L79.42 283.63 L80.39 283.52 L81.37 283.42 L82.34 283.31 L83.31 283.21 L84.29 283.12 L85.26 283.02 L86.24 282.93 L87.21 282.85 L88.19 282.76 L89.16 282.68 L90.14 282.60 L91.11 282.52 L92.08 282.45 L93.06 282.37 L94.03 282.30 L95.01 282.23 L95.98 282.16 L96.96 282.10 L97.93 282.03 L98.90 281.97 L99.88 281.91 L100.85 281.85 L101.83 281.79 L102.80 281.73 L103.78 281.68 L104.75 281.62 L105.73 281.57 L106.70 281.52 L107.67 281.47 L108.65 281.42 L109.62 281.37 L110.60 281.32 L111.57 281.28 L112.55 281.23 L113.52 281.19 L114.50 281.14 L115.47 281.10 L116.44 281.06 L117.42 281.02 L118.39 280.98 L119.37 280.94 L120.34 280.90 L121.32 280.87 L122.29 280.83 L123.26 280.79 L124.24 280.76 L125.21 280.72 L126.19 280.69 L127.16 280.66 L128.14 280.62 L129.11 280.59 L130.09 280.56 L131.06 280.53 L132.03 280.50 L133.01 280.47 L133.98 280.44 L134.96 280.41 L135.93 280.38 L136.91 280.36 L137.88 280.33 L138.86 280.30 L139.83 280.28 L140.80 280.25 L141.78 280.23 L142.75 280.20 L143.73 280.18 L144.70 280.15 L145.68 280.13 L146.65 280.10 L147.62 280.08 L148.60 280.06 L149.57 280.04 L150.55 280.01 L151.52 279.99 L152.50 279.97 L153.47 279.95 L154.45 279.93 L155.42 279.91 L156.39 279.89 L157.37 279.87 L158.34 279.85 L159.32 279.83 L160.29 279.81 L161.27 279.79 L162.24 279.77 L163.22 279.76 L164.19 279.74 L165.16 279.72 L166.14 279.70 L167.11 279.69 L168.09 279.67 L169.06 279.65 L170.04 279.64 L171.01 279.62 L171.99 279.60 L172.96 279.59 L173.93 279.57 L174.91 279.56 L175.88 279.54 L176.86 279.53 L177.83 279.51 L178.81 279.50 L179.78 279.48 L180.75 279.47 L181.73 279.45 L182.70 279.44 L183.68 279.43 L184.65 279.41 L185.63 279.40 L186.60 279.39 L187.58 279.37 L188.55 279.36 L189.52 279.35 L190.50 279.34 L191.47 279.32 L192.45 279.31 L193.42 279.30 L194.40 279.29 L195.37 279.27 L196.35 279.26 L197.32 279.25 L198.29 279.24 L199.27 279.23 L200.24 279.22 L201.22 279.21 L202.19 279.19 L203.17 279.18 L204.14 279.17 L205.11 279.16 L206.09 279.15 L207.06 279.14 L208.04 279.13 L209.01 279.12 L209.99 279.11 L210.96 279.10 L211.94 279.09 L212.91 279.08 L213.88 279.07 L214.86 279.06 L215.83 279.05 L216.81 279.04 L217.78 279.03 L218.76 279.02 L219.73 279.02 L220.71 279.01 L221.68 279.00 L222.65 278.99 L223.63 278.98 L224.60 278.97 L225.58 278.96 L226.55 278.95 L227.53 278.95 L228.50 278.94 L229.47 278.93 L230.45 278.92 L231.42 278.91 L232.40 278.90 L233.37 278.90 L234.35 278.89 L235.32 278.88 L236.30 278.87 L237.27 278.87 L238.24 278.86 L239.22 278.85 L240.19 278.84 L241.17 278.84 L242.14 278.83 L243.12 278.82 L244.09 278.81 L245.07 278.81 L246.04 278.80 L247.01 278.79 L247.99 278.79 L248.96 278.78 L249.94 278.77 L250.91 278.77 L251.89 278.76 L252.86 278.75 L253.84 278.75 L254.81 278.74 L255.78 278.73 L256.76 278.73 L257.73 278.72 L258.71 278.71 L259.68 278.71 L260.66 278.70 L261.63 278.70 L262.60 278.69 L263.58 278.68 L264.55 278.68 L265.53 278.67 L266.50 278.67 L267.48 278.66 L268.45 278.65 L269.43 278.65 L270.40 278.64" stroke="#0000e6" stroke-width="1.55" stroke-dasharray="4.3 4.5" stroke-dashoffset="0.8"/>
</g>
<rect x="31.9" y="194.5" width="238.49999999999997" height="104.5" fill="none" stroke="#1a1a1a" stroke-width="1"/>
<line x1="31.90" y1="299.0" x2="31.90" y2="304.1" stroke="#1a1a1a" stroke-width="1"/>
<text x="31.90" y="315.00" font-size="7.3" text-anchor="middle" fill="#141414">1</text>
<line x1="82.11" y1="299.0" x2="82.11" y2="304.1" stroke="#1a1a1a" stroke-width="1"/>
<text x="82.11" y="315.00" font-size="7.3" text-anchor="middle" fill="#141414">5</text>
<line x1="144.87" y1="299.0" x2="144.87" y2="304.1" stroke="#1a1a1a" stroke-width="1"/>
<text x="144.87" y="315.00" font-size="7.3" text-anchor="middle" fill="#141414">10</text>
<line x1="207.64" y1="299.0" x2="207.64" y2="304.1" stroke="#1a1a1a" stroke-width="1"/>
<text x="207.64" y="315.00" font-size="7.3" text-anchor="middle" fill="#141414">15</text>
<line x1="270.40" y1="299.0" x2="270.40" y2="304.1" stroke="#1a1a1a" stroke-width="1"/>
<text x="270.40" y="315.00" font-size="7.3" text-anchor="middle" fill="#141414">20</text>
<line x1="31.9" y1="299.00" x2="26.599999999999998" y2="299.00" stroke="#1a1a1a" stroke-width="1"/>
<text transform="translate(24.50 299.00) rotate(-90)" font-size="8.0" text-anchor="middle" fill="#141414">1.0</text>
<line x1="31.9" y1="281.58" x2="26.599999999999998" y2="281.58" stroke="#1a1a1a" stroke-width="1"/>
<text transform="translate(24.50 281.58) rotate(-90)" font-size="8.0" text-anchor="middle" fill="#141414">1.2</text>
<line x1="31.9" y1="264.17" x2="26.599999999999998" y2="264.17" stroke="#1a1a1a" stroke-width="1"/>
<text transform="translate(24.50 264.17) rotate(-90)" font-size="8.0" text-anchor="middle" fill="#141414">1.4</text>
<line x1="31.9" y1="246.75" x2="26.599999999999998" y2="246.75" stroke="#1a1a1a" stroke-width="1"/>
<text transform="translate(24.50 246.75) rotate(-90)" font-size="8.0" text-anchor="middle" fill="#141414">1.6</text>
<line x1="31.9" y1="229.33" x2="26.599999999999998" y2="229.33" stroke="#1a1a1a" stroke-width="1"/>
<text transform="translate(24.50 229.33) rotate(-90)" font-size="8.0" text-anchor="middle" fill="#141414">1.8</text>
<line x1="31.9" y1="211.92" x2="26.599999999999998" y2="211.92" stroke="#1a1a1a" stroke-width="1"/>
<text transform="translate(24.50 211.92) rotate(-90)" font-size="8.0" text-anchor="middle" fill="#141414">2.0</text>
<text x="151.14999999999998" y="333.00" font-size="7.45" font-weight="bold" text-anchor="middle" fill="#141414">IRR</text>
<text transform="translate(10.0 246.75) rotate(-90)" font-size="7.45" font-weight="bold" text-anchor="middle" fill="#141414">FRR</text>
<line x1="37.9" y1="203.2" x2="52.5" y2="203.2" stroke="#000" stroke-width="1.6"/>
<line x1="37.9" y1="211.8" x2="52.5" y2="211.8" stroke="#0000e6" stroke-width="1.6" stroke-dasharray="5 4"/>
<text x="58.5" y="205.70" font-size="7.36" fill="#141414">Given one diseased family member</text>
<text x="58.5" y="214.30" font-size="7.36" fill="#141414">Given two diseased family members</text>
<clipPath id="cd"><rect x="325.4" y="194.5" width="238.0" height="104.5"/></clipPath>
<text x="292.2" y="186.7" font-size="17.8" font-weight="bold" fill="#0a0a0a" stroke="#0a0a0a" stroke-width="0.45">d</text>
<text x="444.4" y="187.9" font-size="8.75" font-weight="bold" text-anchor="middle" fill="#141414">q = 0.8</text>
<g clip-path="url(#cd)" fill="none" stroke-linejoin="round">
<path d="M325.40 299.00 L325.56 298.96 L326.02 298.93 L326.73 298.89 L327.64 298.86 L328.74 298.82 L329.99 298.79 L331.37 298.75 L332.86 298.72 L334.44 298.68 L336.09 298.65 L337.80 298.61 L339.57 298.57 L341.37 298.54 L343.20 298.50 L345.06 298.47 L346.94 298.43 L348.82 298.40 L350.72 298.36 L352.61 298.33 L354.51 298.29 L356.40 298.25 L358.28 298.22 L360.16 298.18 L362.02 298.15 L363.86 298.11 L365.70 298.08 L367.51 298.04 L369.31 298.01 L371.09 297.97 L372.85 297.94 L374.59 297.90 L376.31 297.86 L378.01 297.83 L379.69 297.79 L381.35 297.76 L382.98 297.72 L384.60 297.69 L386.19 297.65 L387.76 297.62 L389.32 297.58 L390.84 297.55 L392.35 297.51 L393.84 297.47 L395.30 297.44 L396.75 297.40 L398.17 297.37 L399.58 297.33 L400.96 297.30 L402.33 297.26 L403.67 297.23 L405.00 297.19 L406.31 297.15 L407.59 297.12 L408.86 297.08 L410.11 297.05 L411.35 297.01 L412.56 296.98 L413.76 296.94 L414.95 296.91 L416.11 296.87 L417.26 296.84 L418.39 296.80 L419.51 296.76 L420.61 296.73 L421.70 296.69 L422.77 296.66 L423.82 296.62 L424.86 296.59 L425.89 296.55 L426.90 296.52 L427.90 296.48 L428.89 296.45 L429.86 296.41 L430.82 296.37 L431.77 296.34 L432.70 296.30 L433.62 296.27 L434.53 296.23 L435.43 296.20 L436.32 296.16 L437.19 296.13 L438.05 296.09 L438.90 296.06 L439.75 296.02 L440.58 295.98 L441.40 295.95 L442.20 295.91 L443.00 295.88 L443.79 295.84 L444.57 295.81 L445.34 295.77 L446.10 295.74 L446.85 295.70 L447.59 295.66 L448.33 295.63 L449.05 295.59 L449.76 295.56 L450.47 295.52 L451.17 295.49 L451.86 295.45 L452.54 295.42 L453.21 295.38 L453.88 295.35 L454.54 295.31 L455.19 295.27 L455.83 295.24 L456.47 295.20 L457.09 295.17 L457.72 295.13 L458.33 295.10 L458.94 295.06 L459.54 295.03 L460.13 294.99 L460.72 294.96 L461.30 294.92 L461.87 294.88 L462.44 294.85 L463.00 294.81 L463.56 294.78 L464.72 294.70 L465.88 294.63 L467.03 294.55 L468.16 294.47 L469.29 294.39 L470.40 294.31 L471.51 294.22 L472.60 294.14 L473.69 294.06 L474.76 293.97 L475.83 293.88 L476.88 293.79 L477.93 293.70 L478.96 293.61 L479.99 293.52 L481.00 293.43 L482.00 293.33 L483.00 293.24 L483.98 293.14 L484.96 293.04 L485.92 292.94 L486.88 292.84 L487.82 292.73 L488.76 292.63 L489.68 292.52 L490.60 292.41 L491.50 292.30 L492.40 292.19 L493.29 292.08 L494.17 291.96 L495.03 291.85 L495.89 291.73 L496.74 291.61 L497.58 291.49 L498.41 291.37 L499.24 291.24 L500.05 291.12 L500.85 290.99 L501.65 290.86 L502.44 290.73 L503.21 290.59 L503.98 290.46 L504.74 290.32 L505.49 290.18 L506.24 290.04 L506.97 289.89 L507.70 289.75 L508.42 289.60 L509.13 289.45 L509.83 289.30 L510.52 289.14 L511.21 288.99 L511.88 288.83 L512.55 288.67 L513.21 288.50 L513.87 288.34 L514.51 288.17 L515.15 288.00 L515.78 287.83 L516.41 287.65 L517.02 287.47 L517.63 287.29 L518.23 287.11 L518.82 286.92 L519.41 286.74 L519.99 286.54 L520.56 286.35 L521.13 286.15 L521.69 285.95 L522.24 285.75 L522.78 285.55 L523.32 285.34 L523.85 285.13 L524.38 284.91 L524.90 284.70 L525.41 284.48 L525.91 284.25 L526.41 284.03 L526.91 283.80 L527.39 283.56 L527.88 283.33 L528.35 283.09 L528.82 282.84 L529.28 282.60 L529.74 282.35 L530.19 282.09 L530.64 281.83 L531.08 281.57 L531.51 281.31 L531.94 281.04 L532.36 280.77 L532.78 280.49 L533.20 280.21 L533.60 279.92 L534.01 279.63 L534.40 279.34 L534.79 279.04 L535.18 278.74 L535.56 278.44 L535.94 278.13 L536.31 277.81 L536.68 277.49 L537.04 277.17 L537.40 276.84 L537.75 276.51 L538.10 276.17 L538.45 275.83 L538.79 275.48 L539.12 275.13 L539.45 274.77 L539.78 274.41 L540.10 274.04 L540.42 273.67 L540.73 273.29 L541.04 272.90 L541.35 272.51 L541.65 272.12 L541.95 271.72 L542.24 271.31 L542.53 270.90 L542.82 270.48 L543.10 270.06 L543.38 269.63 L543.65 269.19 L543.92 268.75 L544.19 268.30 L544.45 267.84 L544.71 267.38 L544.97 266.91 L545.22 266.44 L545.47 265.96 L545.72 265.47 L545.96 264.97 L546.20 264.47 L546.44 263.96 L546.68 263.44 L546.91 262.91 L547.13 262.38 L547.36 261.84 L547.58 261.29 L547.80 260.74 L548.01 260.17 L548.23 259.60 L548.44 259.02 L548.64 258.43 L548.85 257.83 L549.05 257.23 L549.25 256.61 L549.44 255.99 L549.64 255.36 L549.83 254.72 L550.02 254.07 L550.20 253.41 L550.38 252.74 L550.56 252.06 L550.74 251.37 L550.92 250.67 L551.09 249.96 L551.26 249.24 L551.43 248.52 L551.60 247.78 L551.76 247.03 L551.92 246.27 L552.08 245.49 L552.24 244.71 L552.39 243.92 L552.55 243.11 L552.70 242.30 L552.85 241.47 L552.99 240.63 L553.14 239.77 L553.28 238.91 L553.42 238.03 L553.56 237.14 L553.70 236.24 L553.83 235.32 L553.97 234.40 L554.10 233.45 L554.23 232.50 L554.36 231.53 L554.48 230.55 L554.61 229.55 L554.73 228.54 L554.85 227.51 L554.97 226.47 L555.09 225.42 L555.21 224.35 L555.32 223.26 L555.43 222.16 L555.54 221.04 L555.65 219.91 L555.76 218.76 L555.87 217.59 L555.97 216.41 L556.08 215.21 L556.18 213.99 L556.28 212.76 L556.38 211.50 L556.48 210.23 L556.58 208.95 L556.67 207.64 L556.77 206.31 L556.86 204.97 L556.95 203.60 L557.04 202.22 L557.13 200.82 L557.22 199.39 L557.30 197.95 L557.39 196.49 L557.47 195.00 L557.56 193.49 L557.64 191.96 L557.72 190.41 L557.80 188.84 L557.88 187.25 L557.96 185.63 L558.03 183.99 L558.11 182.32 L558.18 180.63 L558.25 178.92 L558.33 177.18 L558.40 175.42 L558.47 173.63 L558.54 171.82 L558.61 169.98 L558.67 168.11 L558.74 166.22 L558.81 164.30 L558.87 162.35 L558.93 160.38 L559.00 158.37 L559.06 156.34 L559.12 154.28" stroke="#000" stroke-width="1.6"/>
<path d="M325.40 299.00 L325.72 298.96 L326.62 298.93 L327.97 298.89 L329.72 298.86 L331.77 298.82 L334.07 298.79 L336.57 298.75 L339.22 298.72 L342.00 298.68 L344.86 298.65 L347.79 298.61 L350.76 298.57 L353.76 298.54 L356.77 298.50 L359.78 298.47 L362.77 298.43 L365.75 298.40 L368.69 298.36 L371.61 298.33 L374.48 298.29 L377.32 298.25 L380.11 298.22 L382.85 298.18 L385.55 298.15 L388.19 298.11 L390.79 298.08 L393.33 298.04 L395.83 298.01 L398.27 297.97 L400.66 297.94 L403.00 297.90 L405.29 297.86 L407.53 297.83 L409.73 297.79 L411.87 297.76 L413.97 297.72 L416.02 297.69 L418.03 297.65 L419.99 297.62 L421.91 297.58 L423.79 297.55 L425.62 297.51 L427.42 297.47 L429.17 297.44 L430.89 297.40 L432.57 297.37 L434.22 297.33 L435.83 297.30 L437.40 297.26 L438.94 297.23 L440.45 297.19 L441.93 297.15 L443.37 297.12 L444.79 297.08 L446.18 297.05 L447.53 297.01 L448.86 296.98 L450.17 296.94 L451.44 296.91 L452.69 296.87 L453.92 296.84 L455.12 296.80 L456.30 296.76 L457.45 296.73 L458.58 296.69 L459.69 296.66 L460.78 296.62 L461.85 296.59 L462.89 296.55 L463.92 296.52 L464.93 296.48 L465.92 296.45 L466.89 296.41 L467.85 296.37 L468.78 296.34 L469.70 296.30 L470.61 296.27 L471.49 296.23 L472.36 296.20 L473.22 296.16 L474.06 296.13 L474.89 296.09 L475.70 296.06 L476.50 296.02 L477.28 295.98 L478.06 295.95 L478.82 295.91 L479.56 295.88 L480.30 295.84 L481.02 295.81 L481.73 295.77 L482.43 295.74 L483.11 295.70 L483.79 295.66 L484.46 295.63 L485.11 295.59 L485.76 295.56 L486.39 295.52 L487.02 295.49 L487.63 295.45 L488.24 295.42 L488.84 295.38 L489.42 295.35 L490.00 295.31 L490.57 295.27 L491.14 295.24 L491.69 295.20 L492.24 295.17 L492.77 295.13 L493.31 295.10 L493.83 295.06 L494.34 295.03 L494.85 294.99 L495.35 294.96 L495.85 294.92 L496.33 294.88 L496.81 294.85 L497.29 294.81 L497.76 294.78 L498.73 294.70 L499.70 294.63 L500.64 294.55 L501.58 294.47 L502.50 294.39 L503.41 294.31 L504.30 294.22 L505.18 294.14 L506.05 294.06 L506.91 293.97 L507.75 293.88 L508.58 293.79 L509.40 293.70 L510.20 293.61 L511.00 293.52 L511.78 293.43 L512.55 293.33 L513.31 293.24 L514.05 293.14 L514.79 293.04 L515.51 292.94 L516.23 292.84 L516.93 292.73 L517.63 292.63 L518.31 292.52 L518.98 292.41 L519.64 292.30 L520.29 292.19 L520.94 292.08 L521.57 291.96 L522.19 291.85 L522.81 291.73 L523.41 291.61 L524.01 291.49 L524.59 291.37 L525.17 291.24 L525.74 291.12 L526.30 290.99 L526.85 290.86 L527.39 290.73 L527.93 290.59 L528.46 290.46 L528.97 290.32 L529.49 290.18 L529.99 290.04 L530.48 289.89 L530.97 289.75 L531.45 289.60 L531.93 289.45 L532.39 289.30 L532.85 289.14 L533.30 288.99 L533.75 288.83 L534.19 288.67 L534.62 288.50 L535.05 288.34 L535.47 288.17 L535.88 288.00 L536.29 287.83 L536.69 287.65 L537.08 287.47 L537.47 287.29 L537.85 287.11 L538.23 286.92 L538.60 286.74 L538.96 286.54 L539.32 286.35 L539.68 286.15 L540.03 285.95 L540.37 285.75 L540.71 285.55 L541.04 285.34 L541.37 285.13 L541.70 284.91 L542.01 284.70 L542.33 284.48 L542.64 284.25 L542.94 284.03 L543.24 283.80 L543.54 283.56 L543.83 283.33 L544.12 283.09 L544.40 282.84 L544.68 282.60 L544.95 282.35 L545.22 282.09 L545.49 281.83 L545.75 281.57 L546.01 281.31 L546.26 281.04 L546.51 280.77 L546.76 280.49 L547.00 280.21 L547.24 279.92 L547.47 279.63 L547.71 279.34 L547.94 279.04 L548.16 278.74 L548.38 278.44 L548.60 278.13 L548.82 277.81 L549.03 277.49 L549.24 277.17 L549.44 276.84 L549.65 276.51 L549.85 276.17 L550.04 275.83 L550.24 275.48 L550.43 275.13 L550.62 274.77 L550.80 274.41 L550.99 274.04 L551.17 273.67 L551.34 273.29 L551.52 272.90 L551.69 272.51 L551.86 272.12 L552.03 271.72 L552.19 271.31 L552.35 270.90 L552.51 270.48 L552.67 270.06 L552.83 269.63 L552.98 269.19 L553.13 268.75 L553.28 268.30 L553.42 267.84 L553.57 267.38 L553.71 266.91 L553.85 266.44 L553.99 265.96 L554.12 265.47 L554.26 264.97 L554.39 264.47 L554.52 263.96 L554.65 263.44 L554.77 262.91 L554.90 262.38 L555.02 261.84 L555.14 261.29 L555.26 260.74 L555.38 260.17 L555.49 259.60 L555.61 259.02 L555.72 258.43 L555.83 257.83 L555.94 257.23 L556.04 256.61 L556.15 255.99 L556.25 255.36 L556.36 254.72 L556.46 254.07 L556.56 253.41 L556.66 252.74 L556.75 252.06 L556.85 251.37 L556.94 250.67 L557.04 249.96 L557.13 249.24 L557.22 248.52 L557.31 247.78 L557.39 247.03 L557.48 246.27 L557.56 245.49 L557.65 244.71 L557.73 243.92 L557.81 243.11 L557.89 242.30 L557.97 241.47 L558.05 240.63 L558.12 239.77 L558.20 238.91 L558.27 238.03 L558.35 237.14 L558.42 236.24 L558.49 235.32 L558.56 234.40 L558.63 233.45 L558.70 232.50 L558.77 231.53 L558.83 230.55 L558.90 229.55 L558.96 228.54 L559.02 227.51 L559.09 226.47 L559.15 225.42 L559.21 224.35 L559.27 223.26 L559.33 222.16 L559.39 221.04 L559.44 219.91 L559.50 218.76 L559.56 217.59 L559.61 216.41 L559.67 215.21 L559.72 213.99 L559.77 212.76 L559.82 211.50 L559.87 210.23 L559.92 208.95 L559.97 207.64 L560.02 206.31 L560.07 204.97 L560.12 203.60 L560.16 202.22 L560.21 200.82 L560.26 199.39 L560.30 197.95 L560.35 196.49 L560.39 195.00 L560.43 193.49 L560.47 191.96 L560.52 190.41 L560.56 188.84 L560.60 187.25 L560.64 185.63 L560.68 183.99 L560.72 182.32 L560.75 180.63 L560.79 178.92 L560.83 177.18 L560.86 175.42 L560.90 173.63 L560.94 171.82 L560.97 169.98 L561.01 168.11 L561.04 166.22 L561.07 164.30 L561.11 162.35 L561.14 160.38 L561.17 158.37 L561.20 156.34 L561.23 154.28" stroke="#0000e6" stroke-width="1.55" stroke-dasharray="4.3 4.5" stroke-dashoffset="0.8"/>
</g>
<rect x="325.4" y="194.5" width="238.0" height="104.5" fill="none" stroke="#1a1a1a" stroke-width="1"/>
<line x1="325.40" y1="299.0" x2="325.40" y2="304.1" stroke="#1a1a1a" stroke-width="1"/>
<text x="325.40" y="315.00" font-size="7.3" text-anchor="middle" fill="#141414">1.00</text>
<line x1="373.00" y1="299.0" x2="373.00" y2="304.1" stroke="#1a1a1a" stroke-width="1"/>
<text x="373.00" y="315.00" font-size="7.3" text-anchor="middle" fill="#141414">1.05</text>
<line x1="420.60" y1="299.0" x2="420.60" y2="304.1" stroke="#1a1a1a" stroke-width="1"/>
<text x="420.60" y="315.00" font-size="7.3" text-anchor="middle" fill="#141414">1.10</text>
<line x1="468.20" y1="299.0" x2="468.20" y2="304.1" stroke="#1a1a1a" stroke-width="1"/>
<text x="468.20" y="315.00" font-size="7.3" text-anchor="middle" fill="#141414">1.15</text>
<line x1="515.80" y1="299.0" x2="515.80" y2="304.1" stroke="#1a1a1a" stroke-width="1"/>
<text x="515.80" y="315.00" font-size="7.3" text-anchor="middle" fill="#141414">1.20</text>
<line x1="563.40" y1="299.0" x2="563.40" y2="304.1" stroke="#1a1a1a" stroke-width="1"/>
<text x="563.40" y="315.00" font-size="7.3" text-anchor="middle" fill="#141414">1.25</text>
<line x1="325.4" y1="299.00" x2="320.09999999999997" y2="299.00" stroke="#1a1a1a" stroke-width="1"/>
<text x="319.00" y="301.70" font-size="7.3" text-anchor="end" fill="#141414">1</text>
<line x1="325.4" y1="273.67" x2="320.09999999999997" y2="273.67" stroke="#1a1a1a" stroke-width="1"/>
<text x="319.00" y="276.37" font-size="7.3" text-anchor="end" fill="#141414">25</text>
<line x1="325.4" y1="247.28" x2="320.09999999999997" y2="247.28" stroke="#1a1a1a" stroke-width="1"/>
<text x="319.00" y="249.98" font-size="7.3" text-anchor="end" fill="#141414">50</text>
<line x1="325.4" y1="220.89" x2="320.09999999999997" y2="220.89" stroke="#1a1a1a" stroke-width="1"/>
<text x="319.00" y="223.59" font-size="7.3" text-anchor="end" fill="#141414">75</text>
<line x1="325.4" y1="194.50" x2="320.09999999999997" y2="194.50" stroke="#1a1a1a" stroke-width="1"/>
<text x="319.00" y="197.20" font-size="7.3" text-anchor="end" fill="#141414">100</text>
<text x="444.4" y="333.00" font-size="7.45" font-weight="bold" text-anchor="middle" fill="#141414">FRR</text>
<text transform="translate(304.1 246.75) rotate(-90)" font-size="7.45" font-weight="bold" text-anchor="middle" fill="#141414">IRR</text>
<line x1="331.59999999999997" y1="203.2" x2="346.2" y2="203.2" stroke="#000" stroke-width="1.6"/>
<line x1="331.59999999999997" y1="211.8" x2="346.2" y2="211.8" stroke="#0000e6" stroke-width="1.6" stroke-dasharray="5 4"/>
<text x="351.79999999999995" y="205.70" font-size="7.36" fill="#141414">Given one diseased family member</text>
<text x="351.79999999999995" y="214.30" font-size="7.36" fill="#141414">Given two diseased family members</text>
</svg>
</body></html>
